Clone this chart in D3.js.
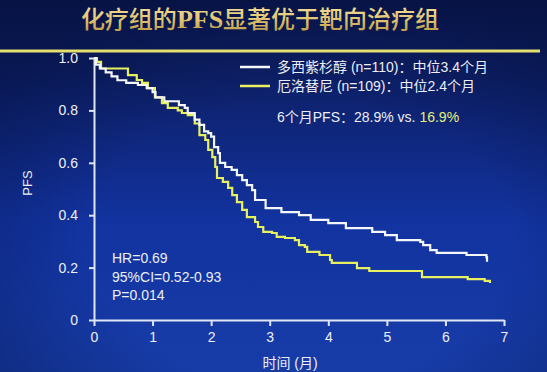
<!DOCTYPE html>
<head>
  <meta charset="utf-8">
  <title>PFS curve</title>
  <style>
    body { margin: 0; background: #0c1c58; }
    svg { display: block; }
    .axis path, .axis line { stroke: #dfe6f4; stroke-width: 2px; }
    .axis text { fill: #eef0f6; font-family: "Liberation Sans", Arial, sans-serif; font-size: 14px; }
    .lbl { fill: #eceef4; font-family: "Liberation Sans", "Noto Sans CJK SC", sans-serif; font-size: 14px; }
  </style>
</head>
<body>
  <script src="https://cdnjs.cloudflare.com/ajax/libs/d3/7.8.5/d3.min.js"></script>
  <script>
    // docetaxel (white) km curve, months / survival
    var docT = [0, 0.03, 0.1, 0.2, 0.3, 0.4, 0.55, 0.75, 0.9, 1.0, 1.05, 1.2, 1.45, 1.55, 1.6, 1.72, 1.8, 1.88, 1.95, 2.0, 2.05, 2.12, 2.15, 2.24, 2.35, 2.44, 2.53, 2.61, 2.7, 2.75, 2.93, 3.2, 3.5, 3.7, 4.0, 4.3, 4.75, 4.97, 5.17, 5.57, 5.62, 5.74, 5.85, 6.36, 6.7, 6.71];
    var docS = [1.0, 0.975, 0.96, 0.945, 0.93, 0.915, 0.905, 0.897, 0.885, 0.87, 0.85, 0.835, 0.82, 0.81, 0.79, 0.765, 0.745, 0.72, 0.713, 0.70, 0.66, 0.637, 0.60, 0.584, 0.573, 0.553, 0.534, 0.515, 0.496, 0.458, 0.427, 0.412, 0.40, 0.382, 0.37, 0.351, 0.336, 0.324, 0.305, 0.298, 0.286, 0.267, 0.256, 0.248, 0.24, 0.222];
    // erlotinib (yellow)
    var erlT = [0, 0.05, 0.12, 0.58, 0.73, 0.82, 0.92, 1.04, 1.16, 1.26, 1.43, 1.5, 1.6, 1.72, 1.8, 1.9, 1.95, 2.02, 2.07, 2.1, 2.2, 2.29, 2.36, 2.44, 2.53, 2.61, 2.75, 2.8, 2.89, 3.04, 3.12, 3.26, 3.43, 3.5, 3.6, 3.64, 3.85, 4.03, 4.06, 4.49, 4.7, 5.6, 6.38, 6.67, 6.76];
    var erlS = [1.0, 0.985, 0.96, 0.935, 0.916, 0.905, 0.885, 0.85, 0.828, 0.81, 0.80, 0.79, 0.782, 0.75, 0.706, 0.687, 0.649, 0.622, 0.584, 0.542, 0.527, 0.504, 0.477, 0.45, 0.42, 0.393, 0.374, 0.355, 0.336, 0.332, 0.317, 0.313, 0.305, 0.286, 0.279, 0.26, 0.248, 0.229, 0.218, 0.198, 0.187, 0.164, 0.156, 0.149, 0.141];

    var xTicks = [0, 1, 2, 3, 4, 5, 6, 7];
    var xTickLabels = ["0", "1", "2", "3", "4", "5", "6", "7"];
    var yTicks = [0, 0.2, 0.4, 0.6, 0.8, 1.0];
    var yTickLabels = ["0", "0.2", "0.4", "0.6", "0.8", "1.0"];
    var legendNames = ["多西紫杉醇 (n=110)：中位3.4个月", "厄洛替尼 (n=109)：中位2.4个月"];
    var statLines = ["HR=0.69", "95%CI=0.52-0.93", "P=0.014"];

    var W = 547, H = 372;
    var margin = { top: 58, right: 43, bottom: 52, left: 94 };

    var svg = d3.select("body").append("svg")
      .attr("width", W)
      .attr("height", H);

    // background
    var defs = svg.append("defs");
    var bg = defs.append("linearGradient").attr("id", "bg")
      .attr("x1", 0).attr("y1", 0).attr("x2", 0).attr("y2", 1);
    bg.append("stop").attr("offset", "0%").attr("stop-color", "#0b1850");
    bg.append("stop").attr("offset", "20%").attr("stop-color", "#0d1f66");
    bg.append("stop").attr("offset", "60%").attr("stop-color", "#1233a0");
    bg.append("stop").attr("offset", "100%").attr("stop-color", "#173ca8");
    var vig = defs.append("radialGradient").attr("id", "vig")
      .attr("cx", "55%").attr("cy", "65%").attr("r", "70%");
    vig.append("stop").attr("offset", "55%").attr("stop-color", "#000a30").attr("stop-opacity", 0);
    vig.append("stop").attr("offset", "100%").attr("stop-color", "#000a30").attr("stop-opacity", 0.35);
    var gold = defs.append("linearGradient").attr("id", "gold")
      .attr("x1", 0).attr("y1", 0).attr("x2", 0).attr("y2", 1);
    gold.append("stop").attr("offset", "0%").attr("stop-color", "#fbeaa8");
    gold.append("stop").attr("offset", "55%").attr("stop-color", "#e2c471");
    gold.append("stop").attr("offset", "100%").attr("stop-color", "#b8923e");

    svg.append("rect").attr("width", W).attr("height", H).attr("fill", "url(#bg)");
    svg.append("rect").attr("width", W).attr("height", H).attr("fill", "url(#vig)");

    // title
    var title = svg.append("text")
      .attr("x", 260)
      .attr("y", 28)
      .attr("text-anchor", "middle")
      .attr("fill", "url(#gold)")
      .style("font-family", "'Noto Sans CJK SC', sans-serif")
      .style("font-weight", 500)
      .style("font-size", "24px");
    title.append("tspan").text("化疗组的");
    title.append("tspan").text("PFS")
      .style("font-family", "'Liberation Serif', serif")
      .style("font-weight", "bold")
      .style("font-size", "26px");
    title.append("tspan").text("显著优于靶向治疗组");

    svg.append("line")
      .attr("x1", 0).attr("x2", 540)
      .attr("y1", 51).attr("y2", 51)
      .attr("stroke", "#e4e070")
      .attr("stroke-width", 3);

    var x = d3.scaleLinear().domain([0, 7]).range([margin.left, W - margin.right]);
    var y = d3.scaleLinear().domain([0, 1]).range([H - margin.bottom, margin.top]);

    var xAxis = d3.axisBottom(x).tickValues(xTicks).tickSize(6).tickSizeOuter(0).tickPadding(6)
      .tickFormat(function (d, i) { return xTickLabels[i]; });
    var yAxis = d3.axisLeft(y).tickValues(yTicks).tickSize(5).tickSizeOuter(0).tickPadding(11)
      .tickFormat(function (d, i) { return yTickLabels[i]; });

    svg.append("g").attr("class", "axis")
      .attr("transform", "translate(0," + y(0) + ")")
      .call(xAxis);
    svg.append("g").attr("class", "axis")
      .attr("transform", "translate(" + x(0) + ",0)")
      .call(yAxis);

    // curves
    var line = d3.line()
      .x(function (d) { return x(d[0]); })
      .y(function (d) { return y(d[1]); })
      .curve(d3.curveStepAfter);

    var doc = docT.map(function (t, i) { return [t, docS[i]]; });
    var erl = erlT.map(function (t, i) { return [t, erlS[i]]; });

    svg.append("path").datum(erl)
      .attr("d", line)
      .attr("fill", "none")
      .attr("stroke", "#e8f060")
      .attr("stroke-width", 2.2);
    svg.append("path").datum(doc)
      .attr("d", line)
      .attr("fill", "none")
      .attr("stroke", "#f4f6fa")
      .attr("stroke-width", 2.2);

    // axis titles
    svg.append("text").attr("class", "lbl")
      .attr("transform", "translate(32,183) rotate(-90)")
      .attr("text-anchor", "middle")
      .style("font-size", "13px")
      .text("PFS");
    svg.append("text").attr("class", "lbl")
      .attr("x", 290).attr("y", 368)
      .attr("text-anchor", "middle")
      .text("时间 (月)");

    // legend
    var legColors = ["#f4f6fa", "#e8f060"];
    legendNames.forEach(function (name, i) {
      var ly = 67 + i * 19;
      svg.append("line")
        .attr("x1", 240).attr("x2", 270)
        .attr("y1", ly).attr("y2", ly)
        .attr("stroke", legColors[i])
        .attr("stroke-width", 2.5);
      svg.append("text").attr("class", "lbl")
        .attr("x", 277).attr("y", ly + 5)
        .text(name);
    });

    var pfs = svg.append("text").attr("class", "lbl")
      .attr("x", 277).attr("y", 122);
    pfs.append("tspan").text("6个月PFS：28.9% vs. ");
    pfs.append("tspan").attr("fill", "#e6ef7a").text("16.9%");

    // stats
    statLines.forEach(function (s, i) {
      svg.append("text").attr("class", "lbl")
        .attr("x", 112).attr("y", 263 + i * 18.5)
        .text(s);
    });
  </script>
</body>
